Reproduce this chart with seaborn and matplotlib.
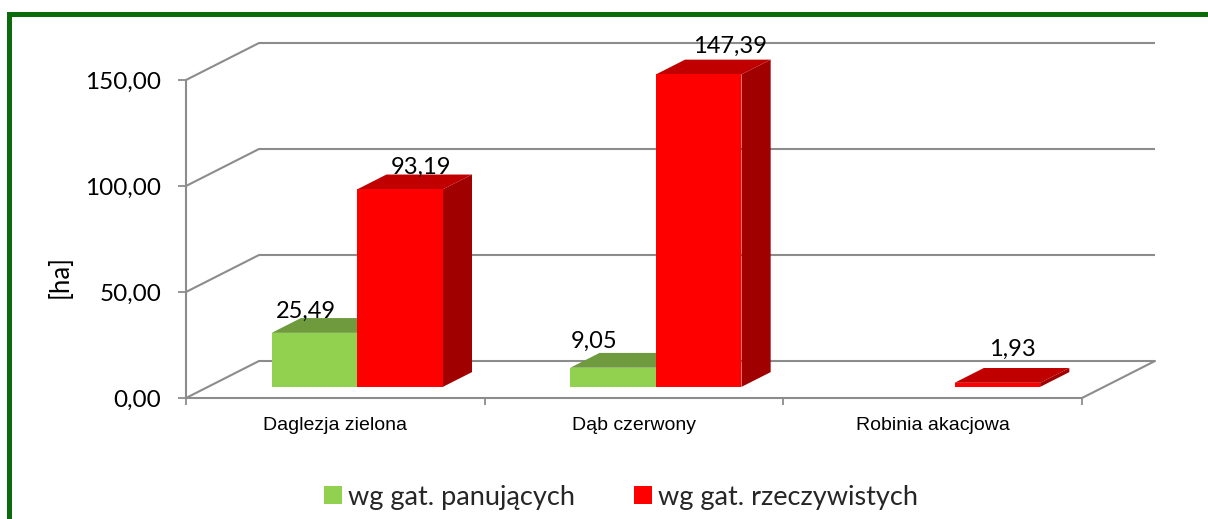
import matplotlib
matplotlib.use("Agg")
import matplotlib.pyplot as plt
import pandas as pd
import seaborn as sns
from matplotlib import font_manager
from matplotlib.patches import Polygon, Rectangle, Patch

# --- data -------------------------------------------------------------
categories = ["Daglezja zielona", "Dąb czerwony", "Robinia akacjowa"]
series_names = ["wg gat. panujących", "wg gat. rzeczywistych"]
panujace = [25.49, 9.05, 0.0]
rzeczywiste = [93.19, 147.39, 1.93]
y_ticks = [0, 50, 100, 150]

# --- style ------------------------------------------------------------
DPI = 100
W, H = 1208, 519
FACE = {"green": "#92D050", "red": "#FF0000"}
TOP = {"green": "#6F9A3E", "red": "#C00000"}
SIDE = {"green": "#5E8534", "red": "#A00000"}
GRID = "#8C8C8C"
FRAME = "#0B6B0B"

FLOOR_DX, FLOOR_DY = 73, 37      # oblique depth of the plot box (px)
BAR_D0, BAR_D1 = 0.30, 0.70      # bars occupy this slice of the depth

# value label nudges (px): x from bar front centre, y above rear top edge
label_shift = {
    (0, 0): (-9, 0), (0, 1): (-19, 5),
    (1, 0): (21, 1), (1, 1): (31, 7), (1, 2): (15, 12),
}

sns.set_theme(style="white")
available = {f.name for f in font_manager.fontManager.ttflist}
num_font = "Lato" if "Lato" in available else "DejaVu Sans"
if "Liberation Sans Narrow" in available:
    cat_font, cat_size = "Liberation Sans Narrow", 16.5
else:
    cat_font, cat_size = "Liberation Sans", 14
plt.rcParams["font.family"] = [num_font, "DejaVu Sans"]

fig = plt.figure(figsize=(W / DPI, H / DPI), dpi=DPI)
ax = fig.add_axes([186 / W, (H - 398) / H, (1082 - 186) / W, (398 - 80) / H])

df = pd.DataFrame({
    "gatunek": categories * 2,
    "seria": [series_names[0]] * 3 + [series_names[1]] * 3,
    "ha": panujace + rzeczywiste,
})
sns.barplot(data=df, x="gatunek", y="ha", hue="seria",
            palette=[FACE["green"], FACE["red"]], width=0.573,
            saturation=1, linewidth=0, errorbar=None, legend=False, ax=ax)
ax.set_xlim(-0.5, 2.5)
ax.set_ylim(0, 150)

ppx = ax.transData.transform((1, 0))[0] - ax.transData.transform((0, 0))[0]
ppy = ax.transData.transform((0, 1))[1] - ax.transData.transform((0, 0))[1]


def proj(x, y, d):
    """Oblique projection: move a data point d (0..1) into the box depth."""
    return x + d * FLOOR_DX / ppx, y + d * FLOOR_DY / ppy


# back wall / side wall gridlines and floor outline
for v in y_ticks:
    pts = [proj(-0.5, v, 0), proj(-0.5, v, 1), proj(2.5, v, 1)]
    ax.plot([p[0] for p in pts], [p[1] for p in pts], color=GRID, lw=1.5,
            zorder=1, clip_on=False, solid_capstyle="butt")
pts = [proj(2.5, 0, 0), proj(2.5, 0, 1)]
ax.plot([p[0] for p in pts], [p[1] for p in pts], color=GRID, lw=1.5,
        zorder=1, clip_on=False)

# turn flat seaborn bars into prisms
bars = list(ax.patches)
colour_keys = ["green", "red"]
ddx = (BAR_D1 - BAR_D0) * FLOOR_DX / ppx
ddy = (BAR_D1 - BAR_D0) * FLOOR_DY / ppy
for idx, bar in enumerate(bars):
    s, c = divmod(idx, len(categories))
    key = colour_keys[s]
    h = bar.get_height()
    x0, w = bar.get_x(), bar.get_width()
    z = 3 + 0.1 * (2 * c + s)
    if h <= 0:
        bar.set_visible(False)
        continue
    fx, fy = proj(x0, 0, BAR_D0)
    bar.set_x(fx)
    bar.set_y(fy)
    bar.set_zorder(z + 0.02)
    bar.set_clip_on(False)
    top = [(fx, fy + h), (fx + w, fy + h), (fx + w + ddx, fy + h + ddy),
           (fx + ddx, fy + h + ddy)]
    side = [(fx + w, fy), (fx + w + ddx, fy + ddy),
            (fx + w + ddx, fy + h + ddy), (fx + w, fy + h)]
    ax.add_patch(Polygon(side, closed=True, fc=SIDE[key], ec="none",
                         zorder=z, clip_on=False))
    ax.add_patch(Polygon(top, closed=True, fc=TOP[key], ec="none",
                         zorder=z + 0.01, clip_on=False))
    sx, sy = label_shift.get((s, c), (0, 0))
    ax.annotate(f"{h:.2f}".replace(".", ","),
                xy=(fx + w / 2, fy + h + ddy),
                xytext=(sx * 72 / DPI, sy * 72 / DPI),
                textcoords="offset points", ha="center", va="baseline",
                fontsize=17, color="black", zorder=10,
                annotation_clip=False)

# axes, ticks and labels
for side_name in ("top", "right"):
    ax.spines[side_name].set_visible(False)
for side_name in ("left", "bottom"):
    ax.spines[side_name].set_color(GRID)
    ax.spines[side_name].set_linewidth(1.5)
    ax.spines[side_name].set_zorder(2)

ax.set_yticks(y_ticks, [f"{v:.2f}".replace(".", ",") for v in y_ticks])
ax.tick_params(axis="y", length=5.8, width=1.3, color=GRID, pad=12,
               labelsize=17.5, labelcolor="black", left=True)
ax.set_xticks(range(len(categories)), categories)
ax.set_xticks([-0.5, 0.5, 1.5, 2.5], minor=True)
ax.tick_params(axis="x", which="major", length=0, pad=14,
               labelsize=cat_size, labelcolor="black")
ax.tick_params(axis="x", which="minor", length=5.2, width=1.3, color=GRID,
               bottom=True)
for lbl in ax.get_xticklabels():
    lbl.set_fontfamily([cat_font, "DejaVu Sans"])
ax.set_xlabel("")
ax.set_ylabel("")
ax.grid(False)
ax.patch.set_visible(False)

fig.text(60 / W, (H - 276) / H, "[ha]", rotation=90, ha="center",
         va="center", fontsize=18.5, color="black")

handles = [Patch(fc=FACE["green"], ec="none"), Patch(fc=FACE["red"], ec="none")]
fig.legend(handles, series_names, loc="center", bbox_to_anchor=(621 / W, 22 / H),
           ncol=2, frameon=False, fontsize=19.5, handlelength=0.66,
           handleheight=0.66, handletextpad=0.22, columnspacing=2.2,
           borderaxespad=0, borderpad=0)

# dark green frame (only top and left edges fall inside the canvas)
fig.patches.append(Rectangle((9.3 / W, -0.1), 1.2, (H - 14.2) / H + 0.1,
                             transform=fig.transFigure, fill=False,
                             ec=FRAME, lw=3.6, zorder=0))

fig.savefig("out.png", dpi=DPI)
